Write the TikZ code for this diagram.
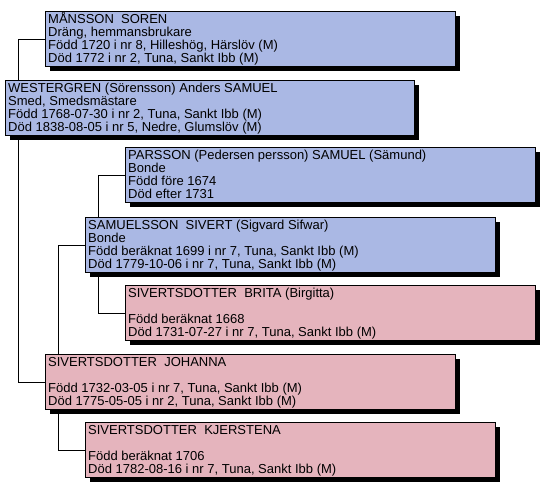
\documentclass[tikz,border=0pt]{standalone}
\usepackage{fontspec}
\setmainfont{Liberation Sans}
\usetikzlibrary{shadows,backgrounds}
\definecolor{bluebox}{RGB}{170,184,228}
\definecolor{pinkbox}{RGB}{229,180,189}
\tikzset{
 person/.style={draw=black, line width=0.8pt, minimum width=410pt, minimum height=55pt,
   anchor=north west, inner sep=0pt,
   drop shadow={shadow xshift=4.5pt, shadow yshift=-4.5pt, opacity=1, fill=black}},
 male/.style={person, fill=bluebox},
 female/.style={person, fill=pinkbox},
 txt/.style={anchor=base west, inner sep=0pt, font=\fontsize{13pt}{15pt}\selectfont, text=black},
 link/.style={draw=black, line width=0.8pt}
}
\begin{document}
\begin{tikzpicture}[x=1pt,y=-1pt]
\useasboundingbox (0,0) rectangle (549,490);
% boxes
\node[male]   (mans)  at (45,11)  {};
\node[male, minimum width=409pt] (west) at (5,80) {};
\node[male]   (pars)  at (125,147) {};
\node[male]   (samu)  at (85,217) {};
\node[female] (brita) at (125,285) {};
\node[female] (joh)   at (45,354) {};
\node[female] (kjer)  at (85,422) {};
% texts
\node[txt] (mans1) at ([xshift=3pt,yshift=-12pt]mans.north west) {MÅNSSON\ \ SOREN};
\node[txt] (mans2) at ([xshift=3pt,yshift=-25pt]mans.north west) {Dräng, hemmansbrukare};
\node[txt] (mans3) at ([xshift=3pt,yshift=-38pt]mans.north west) {Född 1720 i nr 8, Hilleshög, Härslöv (M)};
\node[txt] (mans4) at ([xshift=3pt,yshift=-51pt]mans.north west) {Död 1772 i nr 2, Tuna, Sankt Ibb (M)};

\node[txt] (west1) at ([xshift=3pt,yshift=-12pt]west.north west) {WESTERGREN (Sörensson) Anders SAMUEL};
\node[txt] (west2) at ([xshift=3pt,yshift=-25pt]west.north west) {Smed, Smedsmästare};
\node[txt] (west3) at ([xshift=3pt,yshift=-38pt]west.north west) {Född 1768-07-30 i nr 2, Tuna, Sankt Ibb (M)};
\node[txt] (west4) at ([xshift=3pt,yshift=-51pt]west.north west) {Död 1838-08-05 i nr 5, Nedre, Glumslöv (M)};

\node[txt] (pars1) at ([xshift=3pt,yshift=-12pt]pars.north west) {PARSSON (Pedersen persson) SAMUEL (Sämund)};
\node[txt] (pars2) at ([xshift=3pt,yshift=-25pt]pars.north west) {Bonde};
\node[txt] (pars3) at ([xshift=3pt,yshift=-38pt]pars.north west) {Född före 1674};
\node[txt] (pars4) at ([xshift=3pt,yshift=-51pt]pars.north west) {Död efter 1731};

\node[txt] (samu1) at ([xshift=3pt,yshift=-12pt]samu.north west) {SAMUELSSON\ \ SIVERT (Sigvard Sifwar)};
\node[txt] (samu2) at ([xshift=3pt,yshift=-25pt]samu.north west) {Bonde};
\node[txt] (samu3) at ([xshift=3pt,yshift=-38pt]samu.north west) {Född beräknat 1699 i nr 7, Tuna, Sankt Ibb (M)};
\node[txt] (samu4) at ([xshift=3pt,yshift=-51pt]samu.north west) {Död 1779-10-06 i nr 7, Tuna, Sankt Ibb (M)};

\node[txt] (brita1) at ([xshift=3pt,yshift=-12pt]brita.north west) {SIVERTSDOTTER\ \ BRITA (Birgitta)};
\node[txt] (brita3) at ([xshift=3pt,yshift=-38pt]brita.north west) {Född beräknat 1668};
\node[txt] (brita4) at ([xshift=3pt,yshift=-51pt]brita.north west) {Död 1731-07-27 i nr 7, Tuna, Sankt Ibb (M)};

\node[txt] (joh1) at ([xshift=3pt,yshift=-12pt]joh.north west) {SIVERTSDOTTER\ \ JOHANNA};
\node[txt] (joh3) at ([xshift=3pt,yshift=-38pt]joh.north west) {Född 1732-03-05 i nr 7, Tuna, Sankt Ibb (M)};
\node[txt] (joh4) at ([xshift=3pt,yshift=-51pt]joh.north west) {Död 1775-05-05 i nr 2, Tuna, Sankt Ibb (M)};

\node[txt] (kjer1) at ([xshift=3pt,yshift=-12pt]kjer.north west) {SIVERTSDOTTER\ \ KJERSTENA};
\node[txt] (kjer3) at ([xshift=3pt,yshift=-38pt]kjer.north west) {Född beräknat 1706};
\node[txt] (kjer4) at ([xshift=3pt,yshift=-51pt]kjer.north west) {Död 1782-08-16 i nr 7, Tuna, Sankt Ibb (M)};
% connectors behind boxes
\begin{pgfonlayer}{background}
\fill[white] (0,0) rectangle (549,490);
\draw[link] (mans.west) -- ++(-27,0) |- (joh.west);
\draw[link] (samu.west) -- ++(-27,0) |- (kjer.west);
\draw[link] (pars.west) -- ++(-27,0) |- (brita.west);
\end{pgfonlayer}
\end{tikzpicture}
\end{document}
